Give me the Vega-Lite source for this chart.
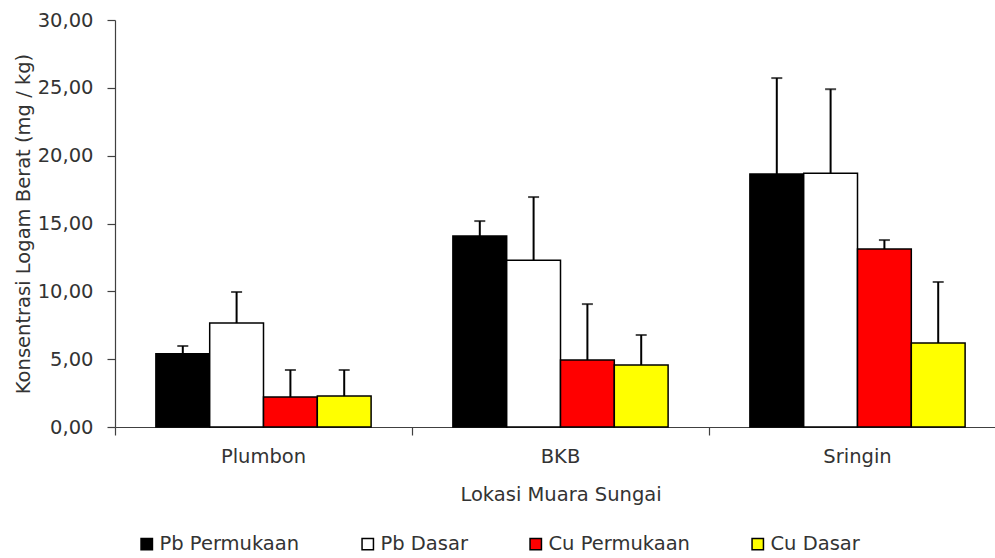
{
  "$schema": "https://vega.github.io/schema/vega-lite/v6.json",
  "width": 891,
  "height": 407,
  "autosize": {"type": "none"},
  "padding": {"left": 115, "top": 20, "right": 0, "bottom": 131},
  "background": "white",
  "config": {
    "view": {"stroke": null},
    "font": "DejaVu Sans",
    "axis": {"grid": false, "labelFont": "DejaVu Sans", "titleFont": "DejaVu Sans", "labelColor": "#333333", "titleColor": "#333333", "labelFontSize": 19.5, "titleFontSize": 19.5, "titleFontWeight": "normal", "domainColor": "#404040", "tickColor": "#404040", "domainWidth": 1.2, "tickWidth": 1.2, "tickSize": 8}
  },
  "data": {
    "values": [
      {"lokasi": "Plumbon", "jenis": "Pb Permukaan", "nilai": 5.4, "atas": 5.97},
      {"lokasi": "Plumbon", "jenis": "Pb Dasar", "nilai": 7.66, "atas": 9.95},
      {"lokasi": "Plumbon", "jenis": "Cu Permukaan", "nilai": 2.21, "atas": 4.2},
      {"lokasi": "Plumbon", "jenis": "Cu Dasar", "nilai": 2.28, "atas": 4.2},
      {"lokasi": "BKB", "jenis": "Pb Permukaan", "nilai": 14.08, "atas": 15.18},
      {"lokasi": "BKB", "jenis": "Pb Dasar", "nilai": 12.3, "atas": 16.95},
      {"lokasi": "BKB", "jenis": "Cu Permukaan", "nilai": 4.94, "atas": 9.06},
      {"lokasi": "BKB", "jenis": "Cu Dasar", "nilai": 4.57, "atas": 6.78},
      {"lokasi": "Sringin", "jenis": "Pb Permukaan", "nilai": 18.64, "atas": 25.72},
      {"lokasi": "Sringin", "jenis": "Pb Dasar", "nilai": 18.7, "atas": 24.9},
      {"lokasi": "Sringin", "jenis": "Cu Permukaan", "nilai": 13.12, "atas": 13.78},
      {"lokasi": "Sringin", "jenis": "Cu Dasar", "nilai": 6.19, "atas": 10.69}
    ]
  },
  "encoding": {
    "x": {
      "field": "lokasi", "type": "nominal", "sort": ["Plumbon", "BKB", "Sringin"],
      "scale": {"paddingInner": 0, "paddingOuter": 0},
      "axis": {"title": "Lokasi Muara Sungai", "labelAngle": 0, "bandPosition": 0, "labelPadding": 12, "titlePadding": 20}
    },
    "xOffset": {
      "field": "jenis", "type": "nominal",
      "scale": {"domain": ["Pb Permukaan", "Pb Dasar", "Cu Permukaan", "Cu Dasar"], "paddingInner": 0, "paddingOuter": 0.76}
    }
  },
  "layer": [
    {
      "mark": {"type": "bar", "stroke": "black", "strokeWidth": 1.5},
      "encoding": {
        "y": {
          "field": "nilai", "type": "quantitative",
          "scale": {"domain": [0, 30], "nice": false},
          "axis": {"title": "Konsentrasi Logam Berat (mg / kg)", "values": [0, 5, 10, 15, 20, 25, 30], "labelExpr": "replace(format(datum.value, '.2f'), '.', ',')", "labelPadding": 14, "titlePadding": 4}
        },
        "fill": {
          "field": "jenis", "type": "nominal",
          "scale": {"domain": ["Pb Permukaan", "Pb Dasar", "Cu Permukaan", "Cu Dasar"], "range": ["#000000", "#ffffff", "#ff0000", "#ffff00"]},
          "legend": {
            "title": null, "orient": "none", "direction": "horizontal", "legendX": 22, "legendY": 514,
            "symbolType": "square", "symbolSize": 130, "symbolStrokeColor": "black", "symbolStrokeWidth": 1.5,
            "labelFontSize": 19.5, "labelFont": "DejaVu Sans", "labelColor": "#333333", "labelOffset": 3,
            "columnPadding": 58, "symbolOpacity": 1
          }
        }
      }
    },
    {
      "mark": {"type": "rule", "color": "black", "strokeWidth": 2},
      "encoding": {
        "y": {"field": "nilai", "type": "quantitative"},
        "y2": {"field": "atas"}
      }
    },
    {
      "mark": {"type": "tick", "color": "black", "thickness": 2, "size": 11},
      "encoding": {
        "y": {"field": "atas", "type": "quantitative"}
      }
    }
  ]
}
